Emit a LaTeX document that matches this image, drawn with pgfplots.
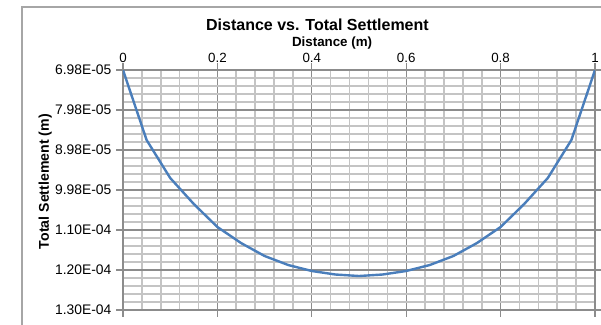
\documentclass[border=0pt]{standalone}
\usepackage{fontspec}
\setmainfont{Liberation Sans}
\usepackage{pgfplots}
\pgfplotsset{compat=1.18}
\definecolor{curve}{HTML}{4A7EBB}
\definecolor{majgrid}{HTML}{8C8C8C}
\definecolor{mingrid}{HTML}{C4C4C4}
\definecolor{frame}{HTML}{A6A6A6}
\begin{document}
\begin{tikzpicture}
\path[use as bounding box] (0,0) rectangle (450.75pt,243.75pt);
\draw[frame, line width=0.8pt] (16.5pt,-2pt) -- (16.5pt,238.5pt) -- (452pt,238.5pt);
\begin{axis}[
  at={(92.25pt,11.25pt)}, anchor=south west,
  scale only axis, width=354pt, height=180pt,
  xmin=0, xmax=1,
  ymin=6.98e-5, ymax=1.298e-4,
  y dir=reverse,
  scaled y ticks=false, scaled x ticks=false,
  xtick={0,0.2,0.4,0.6,0.8,1},
  xticklabels={0,0.2,0.4,0.6,0.8,1},
  ytick={6.98e-5,7.98e-5,8.98e-5,9.98e-5,1.098e-4,1.198e-4,1.298e-4},
  yticklabels={6.98E-05,7.98E-05,8.98E-05,9.98E-05,1.10E-04,1.20E-04,1.30E-04},
  minor x tick num=4, minor y tick num=4,
  xticklabel pos=right,
  grid=both,
  major grid style={majgrid, line width=0.9pt},
  minor grid style={mingrid, line width=1.2pt},
  axis line style={majgrid, line width=0.9pt},
  tick align=outside,
  major tick length=5pt, minor tick length=0pt,
  tick style={majgrid, line width=0.9pt},
  ticklabel style={font=\fontsize{10}{12}\selectfont},
  /pgf/number format/assume math mode=true,
  xticklabel style={anchor=base, yshift=1pt},
  yticklabel style={anchor=east, inner sep=3.5pt, font=\fontsize{10.4}{12}\selectfont},
  title={Distance vs. Total Settlement},
  title style={font=\bfseries\fontsize{12}{14}\selectfont, at={(axis description cs:0.412,1)}, anchor=base, yshift=23.5pt},
  xlabel={Distance (m)},
  xlabel style={font=\bfseries\fontsize{10}{12}\selectfont, at={(axis description cs:0.443,1)}, anchor=base, yshift=17.5pt},
  ylabel={Total Settlement (m)},
  ylabel style={font=\bfseries\fontsize{10.6}{12}\selectfont, at={(axis description cs:-0.165,0.535)}, anchor=center},
]
\addplot[curve, line width=1.8pt, line join=round] coordinates {
(0,6.98e-5) (0.05,8.73e-5) (0.1,9.68e-5) (0.15,1.0330e-4) (0.2,1.0905e-4)
(0.25,1.1305e-4) (0.3,1.1630e-4) (0.35,1.1855e-4) (0.4,1.2005e-4) (0.45,1.2093e-4)
(0.5,1.2130e-4) (0.55,1.2093e-4) (0.6,1.2005e-4) (0.65,1.1855e-4) (0.7,1.1630e-4)
(0.75,1.1305e-4) (0.8,1.0905e-4) (0.85,1.0330e-4) (0.9,9.68e-5) (0.95,8.73e-5)
(1,6.98e-5)
};
\end{axis}
\end{tikzpicture}
\end{document}
